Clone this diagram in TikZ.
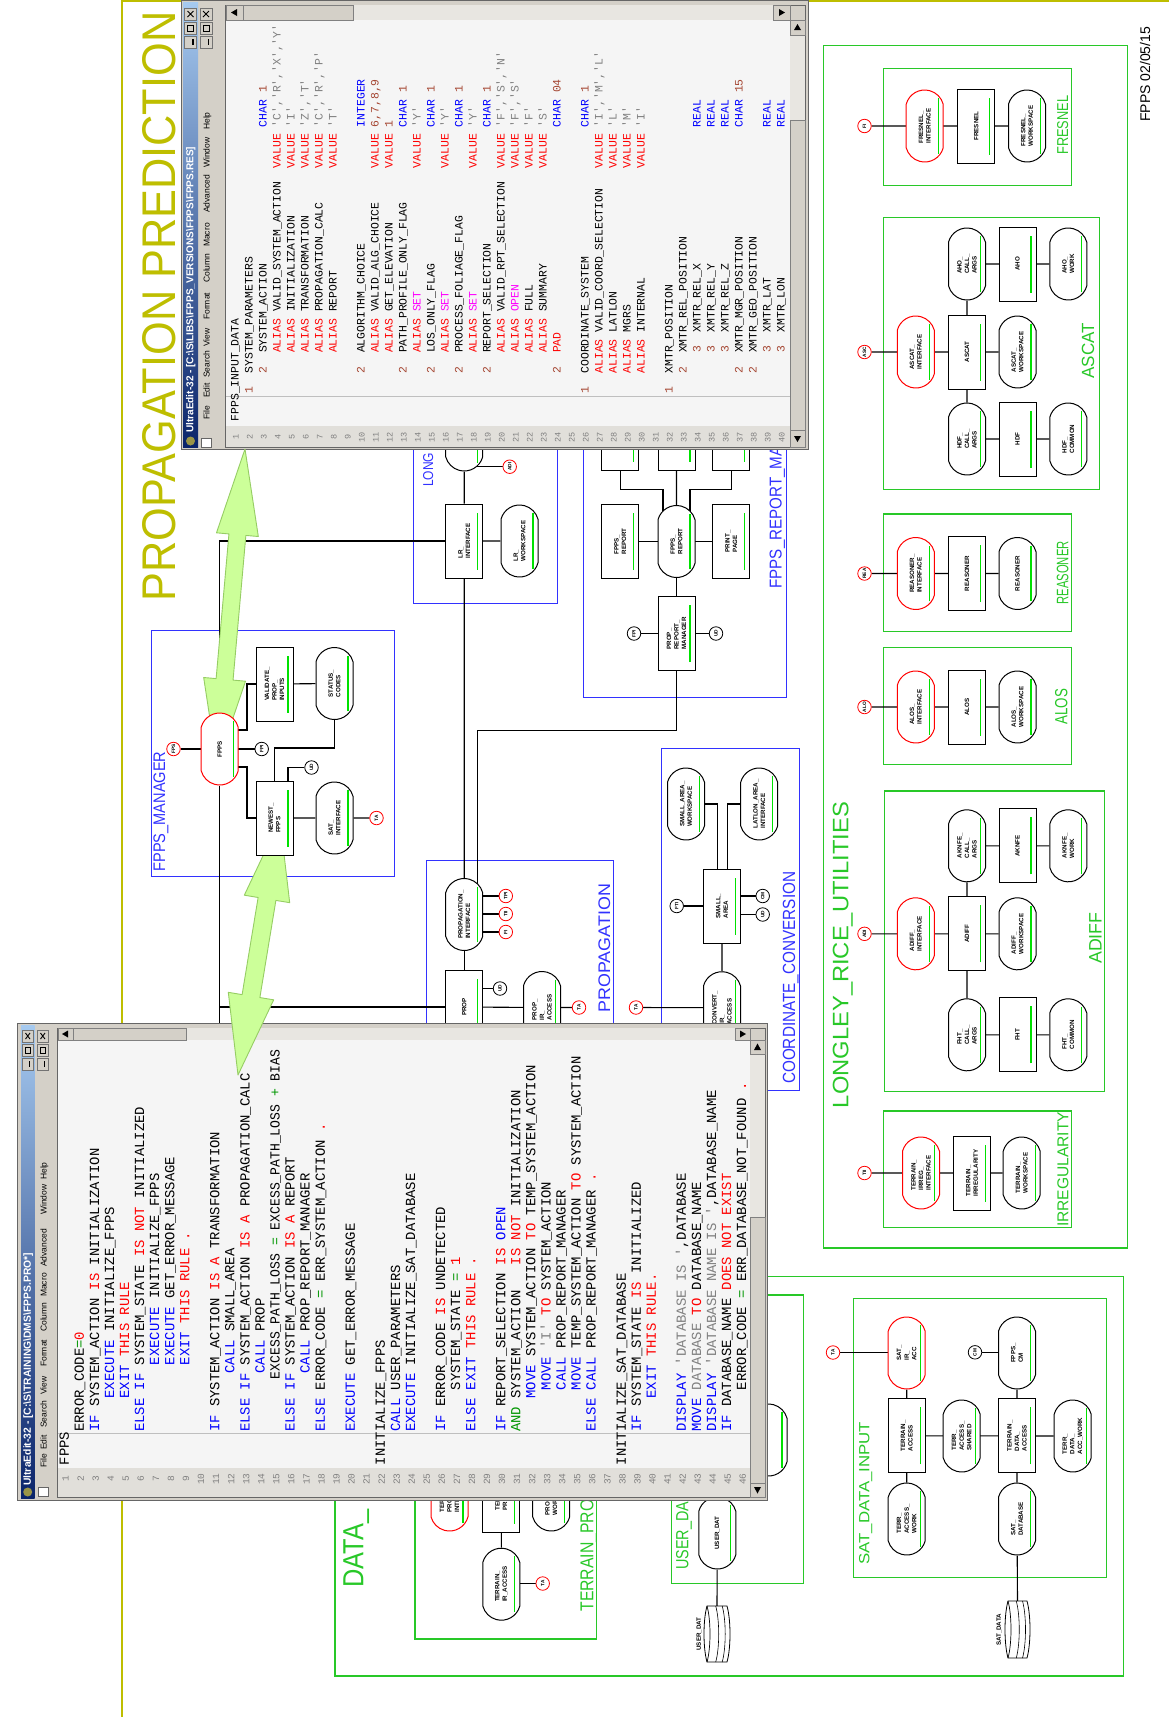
\documentclass[tikz,border=0pt]{standalone}
\usepackage{fontspec}
\usepackage{graphicx}
\setsansfont{Liberation Sans}
\setmonofont{Liberation Mono}
\usetikzlibrary{calc,shapes.misc}
\definecolor{olv}{RGB}{190,190,0}
\definecolor{bfr}{RGB}{50,50,255}
\definecolor{gfr}{RGB}{40,200,40}
\definecolor{glin}{RGB}{0,225,0}
\definecolor{winf}{RGB}{212,208,200}
\definecolor{codebg}{RGB}{245,245,245}
\definecolor{lnbg}{RGB}{225,223,218}
\definecolor{sbtr}{RGB}{232,230,225}
\definecolor{tbd}{RGB}{10,36,106}
\definecolor{tbl}{RGB}{166,202,240}
\definecolor{arrf}{RGB}{204,255,153}
\definecolor{arrd}{RGB}{150,205,100}
\definecolor{cK}{RGB}{0,0,0}
\definecolor{cR}{RGB}{255,0,0}
\definecolor{cB}{RGB}{0,0,255}
\definecolor{cG}{RGB}{128,128,128}
\definecolor{cN}{RGB}{165,70,50}
\definecolor{cM}{RGB}{255,0,255}
\definecolor{cE}{RGB}{0,150,0}
\pgfdeclarelayer{bg}\pgfdeclarelayer{win}\pgfdeclarelayer{arr}\pgfdeclarelayer{top}
\pgfsetlayers{bg,main,win,arr,top}
\newlength\cw
\newcommand\modfont{\sffamily\bfseries\fontsize{6.2}{7.6}\selectfont}
\newcommand\cirfont{\sffamily\bfseries\fontsize{4.8}{5}\selectfont}
\newcommand\CC[3]{\makebox[0pt][l]{\setlength\cw{0.6em}\hspace*{#1\cw}\textcolor{#2}{#3}}}
\newcommand\Tk[2]{\CC{#1}{cK}{#2}}
\newcommand\Tr[2]{\CC{#1}{cR}{#2}}
\newcommand\Tb[2]{\CC{#1}{cB}{#2}}
\newcommand\Tg[2]{\CC{#1}{cG}{#2}}
\newcommand\Tn[2]{\CC{#1}{cN}{#2}}
\newcommand\Tm[2]{\CC{#1}{cM}{#2}}
\newcommand\Te[2]{\CC{#1}{cE}{#2}}
\newcommand\qq{\textquotesingle}
\newcommand\LA[2]{\node[codeA] (la#1) at ({238.7+(#1-1)*14},422) {#2};}
\newcommand\NA[1]{\node[lnA] (na#1) at ({238.5+(#1-1)*14},437) {#1};}
\newcommand\LB[2]{\node[codeB] (lb#1) at ({68.9+(#1-1)*15.05},1466) {#2};}
\newcommand\NB[1]{\node[lnB] (nb#1) at ({68.7+(#1-1)*15.05},1479) {#1};}
\newcommand\gl[1]{\draw[glin,line width=1.2pt] ($(#1.west)!0.12!(#1.east)+(13.5,0)$) -- ($(#1.west)!0.88!(#1.east)+(13.5,0)$);}
\newcommand\lab[6]{\node[rotate=90,anchor=base west,inner sep=0,text=#1] (#2) at (#3) {\resizebox{#4pt}{#5pt}{\sffamily #6}};}
\newcommand\fatarrow[5]{%
  \coordinate (faA) at (#1); \coordinate (faB) at (#2);
  \coordinate (faHa) at ($(faA)!#3!(faB)$);
  \coordinate (faHb) at ($(faB)!#3!(faA)$);
  \filldraw[fill=arrf,draw=arrd,line width=.9pt,line join=round]
   (faA) -- ($(faHa)!#4!90:(faB)$) -- ($(faHa)!#5!90:(faB)$) -- ($(faHb)!#5!-90:(faA)$) -- ($(faHb)!#4!-90:(faA)$) -- (faB) -- ($(faHb)!#4!90:(faA)$) -- ($(faHb)!#5!90:(faA)$) -- ($(faHa)!#5!-90:(faB)$) -- ($(faHa)!#4!-90:(faB)$) -- cycle;}
\newcommand\disk[4]{%
 \begin{scope}[shift={(#1,#2)}]
  \filldraw[fill=white,line width=.8pt] (3,0) -- ({#3-3},0) .. controls ({#3+1},{#4*0.25}) and ({#3+1},{#4*0.75}) .. ({#3-3},#4) -- (3,#4) .. controls (-1,{#4*0.75}) and (-1,{#4*0.25}) .. (3,0) -- cycle;
  \draw[line width=.7pt] (3,0) .. controls (7,{#4*0.25}) and (7,{#4*0.75}) .. (3,#4);
  \draw[line width=.6pt] ({#3*0.45},0) .. controls ({#3*0.45+4},{#4*0.25}) and ({#3*0.45+4},{#4*0.75}) .. ({#3*0.45},#4);
  \draw[line width=.6pt] ({#3*0.7},0) .. controls ({#3*0.7+4},{#4*0.25}) and ({#3*0.7+4},{#4*0.75}) .. ({#3*0.7},#4);
 \end{scope}}
\newcommand\winbtns[3]{%
 \foreach \k in {0,1,2} {\filldraw[fill=winf,draw=black!55,line width=.5pt] (#1,{#3+\k*14}) rectangle (#2,{#3+\k*14+12});}
 \draw[line width=.9pt] ({#1+3},{#3+3}) -- ({#2-3},{#3+9}) ({#1+3},{#3+9}) -- ({#2-3},{#3+3});
 \draw[line width=.7pt] ({#1+3},{#3+17}) rectangle ({#2-3},{#3+23});
 \draw[line width=1.3pt] ({#2-3.5},{#3+31}) -- ({#2-3.5},{#3+37});}
\begin{document}
\begin{tikzpicture}[x=1pt,y=-1pt,
 mod/.style={draw=black,fill=white,line width=1pt,rotate=90,minimum width=74pt,minimum height=37pt,inner sep=1pt,font=\modfont,align=left},
 stad/.style={mod,rounded rectangle,rounded rectangle arc length=150},
 redst/.style={stad,draw=red},
 conn/.style={circle,draw=black,fill=white,line width=.8pt,minimum size=13.5pt,inner sep=0pt,rotate=90,font=\cirfont},
 rconn/.style={conn,draw=red},
 link/.style={line width=1.1pt,black},
 bbox/.style={draw=bfr,line width=1pt},
 gbox/.style={draw=gfr,line width=1.4pt},
 codeA/.style={rotate=90,anchor=base west,inner sep=0,font=\ttfamily\fontsize{11.4}{12}\selectfont},
 lnA/.style={rotate=90,anchor=base,inner sep=0,text=cG,font=\ttfamily\fontsize{8.5}{9}\selectfont},
 codeB/.style={rotate=90,anchor=base west,inner sep=0,font=\ttfamily\fontsize{13.9}{14}\selectfont},
 lnB/.style={rotate=90,anchor=base,inner sep=0,text=cG,font=\ttfamily\fontsize{9.5}{10}\selectfont},
 menu/.style={rotate=90,anchor=base west,inner sep=0,font=\sffamily\fontsize{8.5}{9}\selectfont}]
\useasboundingbox (0,0) rectangle (1169,1717);

% ================= NODES (main) =================
\node[conn,draw=red] (fps) at (173.5,749) {FPS};
\node[conn] (fpi1) at (261.7,749) {FPI};
\node[mod] (validate) at (274.5,684) {VALIDATE\_\\PROP\_\\INPUTS};
\node[stad] (status) at (334.5,683.5) {STATUS\_\\CODES};
\node[stad] (satif) at (334.5,818) {SAT\_\\INTERFACE};
\node[rconn] (ta1) at (376.5,818) {TA};
\node[conn] (ud1) at (311.5,767.5) {UD};
\node[stad] (lrhidden) at (464.2,435) {};
\node[rconn] (adi1) at (509.7,466.7) {ADI};
\node[mod] (lrif) at (464.2,541) {LR\_\\INTERFACE};
\node[stad] (lrws) at (519.5,541) {LR\_\\WORKSPACE};
\node[mod] (prm) at (676.5,633.5) {PROP\_\\REPORT\_\\MANAGER};
\node[conn] (fpi2) at (634,633.5) {FPI};
\node[conn] (ud2) at (716,633.5) {UD};
\node[stad] (fpr) at (676.5,541.5) {FPPS\_\\REPORT};
\node[mod] (fprb) at (620.3,541.5) {FPPS\_\\REPORT};
\node[mod] (pp) at (731.3,541.5) {PRINT\_\\PAGE};
\node[mod] (hb1) at (620.3,433) {};
\node[mod] (hb2) at (676.5,433) {};
\node[mod] (hb3) at (731.3,433) {};
\node[stad] (pif) at (464.2,914.5) {PROPAGATION\_\\INTERFACE};
\node[rconn] (cfi) at (505.8,932) {FI};
\node[rconn] (ctii) at (505.8,914) {TII};
\node[rconn] (ctpi) at (505.8,896) {TPI};
\node[mod] (prop) at (464.2,1007) {PROP};
\node[conn] (ud3) at (500,988.5) {UD};
\node[stad] (pira) at (542,1007.5) {PROP\_\\IR\_\\ACCESS};
\node[rconn] (ta2) at (579,1007.5) {TA};
\node[rconn] (ta3) at (636,1007.5) {TA};
\node[mod] (sa) at (722,906) {SMALL\_\\AREA};
\node[stad] (saws) at (686,804) {SMALL\_AREA\_\\WORKSPACE};
\node[stad] (llif) at (759.2,804) {LATLON\_AREA\_\\INTERFACE};
\node[conn] (fti) at (676.7,906) {FTI};
\node[conn] (cm1) at (762.7,896) {CM};
\node[conn] (ud4) at (762.7,914.5) {UD};
\node[stad] (cira) at (722,1007.7) {CONVERT\_\\IR\_\\ACCESS};
% right box
\node[rconn] (fi) at (864.5,126) {FI};
\node[redst] (frif) at (924.7,126) {FRESNEL\_\\INTERFACE};
\node[mod] (fres) at (976.3,126) {FRESNEL};
\node[stad] (frws) at (1027,126) {FRESNEL\_\\WORKSPACE};
\node[rconn] (asc) at (864.5,352) {ASC};
\node[redst] (ascif) at (915.8,352) {ASCAT\_\\INTERFACE};
\node[mod] (ascat) at (967,352) {ASCAT};
\node[stad] (ascws) at (1017.5,352) {ASCAT\_\\WORKSPACE};
\node[stad] (ahoca) at (967,264) {AHO\_\\CALL\_\\ARGS};
\node[mod] (aho) at (1017.5,264) {AHO};
\node[stad] (ahow) at (1068.3,264) {AHO\_\\WORK};
\node[stad] (hdfca) at (967,439) {HDF\_\\CALL\_\\ARGS};
\node[mod] (hdf) at (1017.5,439) {HDF};
\node[stad] (hdfc) at (1068.3,439) {HDF\_\\COMMON};
\node[rconn] (rea) at (864.5,573.5) {REA};
\node[redst] (reasif) at (915.8,573.5) {REASONER\_\\INTERFACE};
\node[mod] (reas) at (967,573.5) {REASONER};
\node[stad] (reas2) at (1017.5,573.5) {REASONER};
\node[rconn] (alo) at (864.5,707) {ALO};
\node[redst] (alosif) at (915.8,707) {ALOS\_\\INTERFACE};
\node[mod] (alos) at (967,707) {ALOS};
\node[stad] (alosws) at (1017.5,707) {ALOS\_\\WORKSPACE};
\node[rconn] (adi2) at (864.5,933.8) {ADI};
\node[redst] (adiffif) at (915.8,933.8) {ADIFF\_\\INTERFACE};
\node[mod] (adiff) at (967,933.8) {ADIFF};
\node[stad] (adiffws) at (1017.5,933.8) {ADIFF\_\\WORKSPACE};
\node[stad] (aknca) at (967,845.8) {AKNFE\_\\CALL\_\\ARGS};
\node[mod] (aknfe) at (1017.5,845.8) {AKNFE};
\node[stad] (aknw) at (1068.3,845.8) {AKNFE\_\\WORK};
\node[stad] (fhtca) at (967,1034.8) {FHT\_\\CALL\_\\ARGS};
\node[mod] (fht) at (1017.5,1034.8) {FHT};
\node[stad] (fhtc) at (1068.3,1034.8) {FHT\_\\COMMON};
\node[rconn] (tii2) at (864.5,1173) {TII};
\node[redst] (tirrif) at (921,1173) {TERRAIN\_\\IRREG\_\\INTERFACE};
\node[mod] (tirr) at (972,1173) {TERRAIN\_\\IRREGULARITY};
\node[stad] (tirrws) at (1021.7,1173) {TERRAIN\_\\WORKSPACE};
% sat data input
\node[rconn] (ta5) at (833,1352.5) {TA};
\node[redst] (satir) at (906.7,1353) {SAT\_\\IR\_\\ACC};
\node[conn] (cm2) at (975,1352.3) {CM};
\node[stad] (fppscm) at (1017,1353) {FPPS\_\\CM};
\node[mod] (tacc) at (906.7,1435.8) {TERRAIN\_\\ACCESS};
\node[stad] (tas) at (961.7,1436) {TERR\_\\ACCESS\_\\SHARED};
\node[mod] (tda) at (1017,1435.8) {TERRAIN\_\\DATA\_\\ACCESS};
\node[stad] (tdaw) at (1072.7,1436) {TERR\_\\DATA\_\\ACC\_WORK};
\node[stad] (taw) at (906.7,1519) {TERR\_\\ACCESS\_\\WORK};
\node[stad] (satdb) at (1017,1519) {SAT\_\\DATABASE};
% data area
\node[redst] (tpih) at (449.5,1495) {TERRAIN\_\\PROFILE\_\\INTERFACE};
\node[mod] (tprh) at (501.3,1495) {TERRAIN\_\\PROFILE};
\node[stad] (tpwh) at (551.2,1495) {PROFILE\_\\WORKSPACE};
\node[stad] (tira) at (501.3,1584.2) {TERRAIN\_\\IR\_ACCESS};
\node[rconn] (ta4) at (542.7,1583.5) {TA};
\node[stad] (userdat) at (717.3,1533) {USER\_DAT};
\node[stad] (udh) at (768.5,1440) {};
\disk{1005}{1601}{25}{57}
\disk{704}{1606}{26}{56}
\coordinate (satcyl) at (1017.5,1601);
\coordinate (usercyl) at (717,1606);
\node[rotate=90,font=\modfont,inner sep=0] (satdatalab) at (999,1630) {SAT\_DATA};
\node[rotate=90,font=\modfont,inner sep=0] (userdatlab) at (699,1634) {USER\_DAT};
\coordinate (fppsdown) at (219.7,1060);
\foreach \n in {validate,status,satif,lrhidden,lrif,lrws,prm,fpr,fprb,pp,hb1,hb2,hb3,pif,prop,pira,sa,saws,llif,cira,frif,fres,frws,ascif,ascat,ascws,ahoca,aho,ahow,hdfca,hdf,hdfc,reasif,reas,reas2,alosif,alos,alosws,adiffif,adiff,adiffws,aknca,aknfe,aknw,fhtca,fht,fhtc,tirrif,tirr,tirrws,satir,fppscm,tacc,tas,tda,tdaw,taw,satdb,tpih,tprh,tpwh,tira,userdat,udh} {\gl{\n}}

\begin{pgfonlayer}{top}
\node[redst] (fpps) at (219.7,749) {FPPS};
\node[mod] (newest) at (274.5,818) {NEWEST\_\\FPPS};
\gl{fpps}\gl{newest}
\end{pgfonlayer}

% ================= BACKGROUND: frames, labels, connectors =================
\begin{pgfonlayer}{bg}
\fill[white] (0,0) rectangle (1169,1717);
\draw[olv,line width=2pt] (122,0) -- (122,1717);
\draw[olv,line width=2pt] (122,1) -- (1169,1);
\lab{olv}{title}{175,602}{590}{33}{PROPAGATION PREDICTION}
\node[rotate=90,anchor=base west,inner sep=0,font=\sffamily\fontsize{14}{14}\selectfont] (date) at (1150,122) {FPPS 02/05/15};
% blue frames
\draw[bbox] (151,630) rectangle (394,876);
\draw[bbox] (413,380) rectangle (557.3,603.6);
\draw[bbox] (583.3,380) rectangle (786.7,697);
\draw[bbox] (426,860) rectangle (613.3,1060);
\draw[bbox] (661,748.6) rectangle (799.3,1090);
\lab{bfr}{lfm}{165,871.7}{120}{11.7}{FPPS\_MANAGER}
\lab{bfr}{llong}{433,487}{34}{10}{LONG}
\lab{bfr}{lprop}{610,1012.6}{128.6}{11.7}{PROPAGATION}
\lab{bfr}{lcc}{795,1084}{212}{12.3}{COORDINATE\_CONVERSION}
\lab{bfr}{lfrm}{781.7,588.7}{196}{12}{FPPS\_REPORT\_MANAGER}
% green frames
\draw[gbox] (823.3,45.7) rectangle (1127.3,1248);
\draw[gbox] (883.3,68.7) rectangle (1071.7,185.4);
\draw[gbox] (883.3,217.2) rectangle (1099.3,489.7);
\draw[gbox] (883.3,513.8) rectangle (1071.7,631.3);
\draw[gbox] (883.3,647.7) rectangle (1071.7,764.3);
\draw[gbox] (884.3,790.8) rectangle (1104.3,1091.3);
\draw[gbox] (883.3,1111) rectangle (1071.7,1227.7);
\draw[gbox] (335,1276.7) rectangle (1123.3,1676);
\draw[gbox] (853.3,1298.3) rectangle (1106.7,1577.7);
\draw[gbox] (671.7,1295) rectangle (803.3,1583.3);
\draw[gbox] (415,1400) rectangle (596.7,1639);
\lab{gfr}{llru}{848.3,1108.3}{306}{15.6}{LONGLEY\_RICE\_UTILITIES}
\lab{gfr}{lfres}{1068,154.8}{59}{11}{FRESNEL}
\lab{gfr}{lascat}{1094,378.7}{55.5}{12.3}{ASCAT}
\lab{gfr}{lreas}{1068.3,604.5}{63}{11.6}{REASONER}
\lab{gfr}{lalos}{1067.3,724.8}{35.6}{12.3}{ALOS}
\lab{gfr}{ladiff}{1101.7,964}{51.4}{12.4}{ADIFF}
\lab{gfr}{lirr}{1068.3,1227}{115}{11}{IRREGULARITY}
\lab{gfr}{ldata}{363.3,1588}{78}{20}{DATA\_}
\lab{gfr}{lsdi}{869.3,1565}{143}{10.3}{SAT\_DATA\_INPUT}
\lab{gfr}{ltp}{593.3,1611.7}{112}{13}{TERRAIN\_PRO}
\lab{gfr}{lud}{688.3,1570}{68}{12.3}{USER\_DA}
% connectors
\draw[link] (fps) -- (fpi1);
\draw[link] (validate) -- ++(-27.5,0) |- ($(fpps)+(0,-19)$);
\draw[link] (newest) -- ++(-27.5,0) |- ($(fpps)+(0,18)$);
\draw[link] (validate) -- (status);
\draw[link] (newest) -- (satif) -- (ta1);
\draw[link] (newest) -- ++(0,-70) -| (status);
\draw[link] ($(newest)+(13.5,0)$) |- (ud1);
\draw[link] (fpps) |- (lrif);
\draw[link] (fpps) |- (prop);
\draw[link] (fpps) -- (fppsdown);
\draw[link] (lrhidden) -- (lrif) -- (pif);
\draw[link] (lrif) -- (lrws);
\draw[link] (adi1) -- (adi1 -| lrhidden);
\draw[link] (pif) -- (prop);
\draw[link] (cfi) -- (cfi -| pif);
\draw[link] (ctii) -- (ctii -| pif);
\draw[link] (ctpi) -- (ctpi -| pif);
\draw[link] (ud3) -- (ud3 -| prop);
\draw[link] (prop) -- (pira) -- (ta2);
\draw[link] (prm) |- ($(pif)+(13.5,-184)$) -- ($(pif)+(13.5,0)$);
\draw[link] (fpi2) -- (ud2);
\draw[link] (prm) -- (fpr);
\draw[link] (fprb) -- (pp);
\draw[link] (hb2) -- (fpr);
\draw[link] (hb1) |- ($(fpr)+(-13.5,-52)$) -- ($(fpr)+(-13.5,0)$);
\draw[link] (hb3) |- ($(fpr)+(13.5,-52)$) -- ($(fpr)+(13.5,0)$);
\draw[link] (saws) -| ($(sa)+(-4.3,0)$);
\draw[link] (llif) -| ($(sa)+(5.7,0)$);
\draw[link] (fti) -- (fti -| sa);
\draw[link] (cm1) -- (cm1 -| sa);
\draw[link] (ud4) -- (ud4 -| sa);
\draw[link] (sa) -- (cira);
\draw[link] (ta3) -- (cira);
\draw[link] (fi) -- (frws);
\draw[link] (asc) -- (ascws);
\draw[link] (ahoca) -- (hdfca);
\draw[link] (ahoca) -- (ahow);
\draw[link] (hdfca) -- (hdfc);
\draw[link] (rea) -- (reas2);
\draw[link] (alo) -- (alosws);
\draw[link] (adi2) -- (adiffws);
\draw[link] (aknca) -- (fhtca);
\draw[link] (aknca) -- (aknw);
\draw[link] (fhtca) -- (fhtc);
\draw[link] (tii2) -- (tirrws);
\draw[link] (ta5) -- (ta5 -| satir);
\draw[link] (cm2) -- (cm2 -| fppscm);
\draw[link] (satir) -- (taw);
\draw[link] (fppscm) -- (satdb);
\draw[link] (satdb) -- (satcyl);
\draw[link] (tacc) -- (tdaw);
\draw[link] (tprh) -- (tira);
\draw[link] (ta4) -- (ta4 -| tira);
\draw[link] (userdat) -- (usercyl);
\end{pgfonlayer}

% ================= WINDOWS =================
\begin{pgfonlayer}{win}
% ---- window A ----
\filldraw[fill=winf,draw=black!60,line width=.6pt] (181,0) rectangle (808,449);
\shade[top color=tbl,bottom color=tbd] (183,2) rectangle (198,447);
\fill[yellow!55!black] (190.5,441) circle (4.5);
\node[rotate=90,anchor=west,inner sep=0,text=white] (tA) at (190.8,433) {\resizebox{286pt}{!}{\sffamily\bfseries UltraEdit-32 - [C:\textbackslash S\textbackslash LIBS\textbackslash FPPS\_VERSIONS\textbackslash FPPS\textbackslash FPPS.RES]}};
\winbtns{184.5}{196.5}{8}
\winbtns{200}{212}{8}
\filldraw[fill=white,draw=black!60] (201,438) rectangle (211,447);
\node[menu] (mA1) at (209.5,420) {File};
\node[menu] (mA2) at (209.5,398) {Edit};
\node[menu] (mA3) at (209.5,378) {Search};
\node[menu] (mA4) at (209.5,347) {View};
\node[menu] (mA5) at (209.5,320) {Format};
\node[menu] (mA6) at (209.5,283) {Column};
\node[menu] (mA7) at (209.5,247) {Macro};
\node[menu] (mA8) at (209.5,213) {Advanced};
\node[menu] (mA9) at (209.5,168) {Window};
\node[menu] (mA10) at (209.5,130) {Help};
\fill[codebg] (226,20) rectangle (790,426);
\fill[lnbg] (226,426) rectangle (790,447);
\draw[black!25] (226,396) -- (790,396);
\draw[black!60] (225,5) rectangle (805,447);
\fill[sbtr] (226,5) rectangle (790,20);
\filldraw[fill=winf,draw=black!50] (226,5) rectangle (243,20);
\fill (231,12.5) -- (237,9) -- (237,16) -- cycle;
\filldraw[fill=winf,draw=black!50] (243,5) rectangle (353,20);
\filldraw[fill=winf,draw=black!50] (773,5) rectangle (790,20);
\fill (785,12.5) -- (779,9) -- (779,16) -- cycle;
\fill[sbtr] (790,20) rectangle (805,447);
\filldraw[fill=winf,draw=black!50] (790,20) rectangle (805,35);
\fill (797.5,24) -- (794,30) -- (801,30) -- cycle;
\filldraw[fill=winf,draw=black!50] (790,120) rectangle (805,430);
\filldraw[fill=winf,draw=black!50] (790,430) rectangle (805,447);
\fill (797.5,442) -- (794,436) -- (801,436) -- cycle;
\foreach \i in {1,...,40} {\NA{\i}}
\begin{scope}
\clip (226,20) rectangle (790,426);
\LA{1}{\Tk{0}{FPPS\_INPUT\_DATA}}
\LA{2}{\Tn{4}{1}\Tk{7}{SYSTEM\_PARAMETERS}}
\LA{3}{\Tn{7}{2}\Tk{10}{SYSTEM\_ACTION}\Tb{43}{CHAR}\Tn{48}{1}}
\LA{4}{\Tr{10}{ALIAS}\Tk{16}{VALID\_SYSTEM\_ACTION}\Tr{37}{VALUE}\Tg{43}{\qq C\qq,\qq R\qq,\qq X\qq,\qq Y\qq}}
\LA{5}{\Tr{10}{ALIAS}\Tk{16}{INITIALIZATION}\Tr{37}{VALUE}\Tg{43}{\qq I\qq}}
\LA{6}{\Tr{10}{ALIAS}\Tk{16}{TRANSFORMATION}\Tr{37}{VALUE}\Tg{43}{\qq Z\qq,\qq T\qq}}
\LA{7}{\Tr{10}{ALIAS}\Tk{16}{PROPAGATION\_CALC}\Tr{37}{VALUE}\Tg{43}{\qq C\qq,\qq R\qq,\qq P\qq}}
\LA{8}{\Tr{10}{ALIAS}\Tk{16}{REPORT}\Tr{37}{VALUE}\Tg{43}{\qq T\qq}}
\LA{10}{\Tn{7}{2}\Tk{10}{ALGORITHM\_CHOICE}\Tb{43}{INTEGER}}
\LA{11}{\Tr{10}{ALIAS}\Tk{16}{VALID\_ALG\_CHOICE}\Tr{37}{VALUE}\Tn{43}{6,7,8,9}}
\LA{12}{\Tr{10}{ALIAS}\Tk{16}{GET\_ELEVATION}\Tr{37}{VALUE}\Tn{43}{1}}
\LA{13}{\Tn{7}{2}\Tk{10}{PATH\_PROFILE\_ONLY\_FLAG}\Tb{43}{CHAR}\Tn{48}{1}}
\LA{14}{\Tr{10}{ALIAS}\Tm{16}{SET}\Tr{37}{VALUE}\Tg{43}{\qq Y\qq}}
\LA{15}{\Tn{7}{2}\Tk{10}{LOS\_ONLY\_FLAG}\Tb{43}{CHAR}\Tn{48}{1}}
\LA{16}{\Tr{10}{ALIAS}\Tm{16}{SET}\Tr{37}{VALUE}\Tg{43}{\qq Y\qq}}
\LA{17}{\Tn{7}{2}\Tk{10}{PROCESS\_FOLIAGE\_FLAG}\Tb{43}{CHAR}\Tn{48}{1}}
\LA{18}{\Tr{10}{ALIAS}\Tm{16}{SET}\Tr{37}{VALUE}\Tg{43}{\qq Y\qq}}
\LA{19}{\Tn{7}{2}\Tk{10}{REPORT\_SELECTION}\Tb{43}{CHAR}\Tn{48}{1}}
\LA{20}{\Tr{10}{ALIAS}\Tk{16}{VALID\_RPT\_SELECTION}\Tr{37}{VALUE}\Tg{43}{\qq F\qq,\qq S\qq,\qq N\qq}}
\LA{21}{\Tr{10}{ALIAS}\Tm{16}{OPEN}\Tr{37}{VALUE}\Tg{43}{\qq F\qq,\qq S\qq}}
\LA{22}{\Tr{10}{ALIAS}\Tk{16}{FULL}\Tr{37}{VALUE}\Tg{43}{\qq F\qq}}
\LA{23}{\Tr{10}{ALIAS}\Tk{16}{SUMMARY}\Tr{37}{VALUE}\Tg{43}{\qq S\qq}}
\LA{24}{\Tn{7}{2}\Tr{10}{PAD}\Tb{43}{CHAR}\Tn{48}{04}}
\LA{26}{\Tn{4}{1}\Tk{7}{COORDINATE\_SYSTEM}\Tb{43}{CHAR}\Tn{48}{1}}
\LA{27}{\Tr{7}{ALIAS}\Tk{13}{VALID\_COORD\_SELECTION}\Tr{37}{VALUE}\Tg{43}{\qq I\qq,\qq M\qq,\qq L\qq}}
\LA{28}{\Tr{7}{ALIAS}\Tk{13}{LATLON}\Tr{37}{VALUE}\Tg{43}{\qq L\qq}}
\LA{29}{\Tr{7}{ALIAS}\Tk{13}{MGRS}\Tr{37}{VALUE}\Tg{43}{\qq M\qq}}
\LA{30}{\Tr{7}{ALIAS}\Tk{13}{INTERNAL}\Tr{37}{VALUE}\Tg{43}{\qq I\qq}}
\LA{32}{\Tn{4}{1}\Tk{7}{XMTR\_POSITION}}
\LA{33}{\Tn{7}{2}\Tk{10}{XMTR\_REL\_POSITION}}
\LA{34}{\Tn{10}{3}\Tk{13}{XMTR\_REL\_X}\Tb{43}{REAL}}
\LA{35}{\Tn{10}{3}\Tk{13}{XMTR\_REL\_Y}\Tb{43}{REAL}}
\LA{36}{\Tn{10}{3}\Tk{13}{XMTR\_REL\_Z}\Tb{43}{REAL}}
\LA{37}{\Tn{7}{2}\Tk{10}{XMTR\_MGR\_POSITION}\Tb{43}{CHAR}\Tn{48}{15}}
\LA{38}{\Tn{7}{2}\Tk{10}{XMTR\_GEO\_POSITION}}
\LA{39}{\Tn{10}{3}\Tk{13}{XMTR\_LAT}\Tb{43}{REAL}}
\LA{40}{\Tn{10}{3}\Tk{13}{XMTR\_LON}\Tb{43}{REAL}}
\end{scope}
% ---- window B ----
\filldraw[fill=winf,draw=black!60,line width=.6pt] (17,1023) rectangle (767,1500);
\shade[top color=tbl,bottom color=tbd] (21,1025) rectangle (34.5,1498);
\fill[yellow!55!black] (27.7,1492) circle (4.5);
\node[rotate=90,anchor=west,inner sep=0,text=white] (tB) at (28.2,1486) {\resizebox{233pt}{!}{\sffamily\bfseries UltraEdit-32 - [C:\textbackslash S\textbackslash TRAINING\textbackslash DMS\textbackslash FPPS.PRO*]}};
\winbtns{22.5}{33}{1030}
\winbtns{37.5}{48}{1030}
\filldraw[fill=white,draw=black!60] (38,1487) rectangle (48,1496);
\node[menu] (mB1) at (46.5,1468) {File};
\node[menu] (mB2) at (46.5,1450) {Edit};
\node[menu] (mB3) at (46.5,1428) {Search};
\node[menu] (mB4) at (46.5,1395) {View};
\node[menu] (mB5) at (46.5,1367) {Format};
\node[menu] (mB6) at (46.5,1332) {Column};
\node[menu] (mB7) at (46.5,1297) {Macro};
\node[menu] (mB8) at (46.5,1267) {Advanced};
\node[menu] (mB9) at (46.5,1215) {Window};
\node[menu] (mB10) at (46.5,1180) {Help};
\fill[codebg] (58,1040) rectangle (750,1468);
\fill[lnbg] (58,1468) rectangle (750,1497);
\draw[black!25] (58,1433) -- (750,1433);
\draw[black!60] (57,1028) rectangle (765,1497);
\fill[sbtr] (58,1028) rectangle (750,1040);
\filldraw[fill=winf,draw=black!50] (58,1028) rectangle (73,1040);
\fill (62,1034) -- (68,1030.5) -- (68,1037.5) -- cycle;
\filldraw[fill=winf,draw=black!50] (73,1028) rectangle (186,1040);
\filldraw[fill=winf,draw=black!50] (735,1028) rectangle (750,1040);
\fill (746,1034) -- (740,1030.5) -- (740,1037.5) -- cycle;
\fill[sbtr] (750,1040) rectangle (765,1497);
\filldraw[fill=winf,draw=black!50] (750,1040) rectangle (765,1054);
\fill (757.5,1043.5) -- (754,1050) -- (761,1050) -- cycle;
\filldraw[fill=winf,draw=black!50] (750,1217) rectangle (765,1483);
\filldraw[fill=winf,draw=black!50] (750,1483) rectangle (765,1497);
\fill (757.5,1493.5) -- (754,1487) -- (761,1487) -- cycle;
\foreach \i in {1,...,46} {\NB{\i}}
\begin{scope}
\clip (58,1040) rectangle (750,1468);
\LB{1}{\Tk{0}{FPPS}}
\LB{2}{\Tk{4}{ERROR\_CODE}\Te{14}{=}\Tr{15}{0}}
\LB{3}{\Tb{4}{IF}\Tk{7}{SYSTEM\_ACTION}\Tr{21}{IS}\Tk{24}{INITIALIZATION}}
\LB{4}{\Tb{8}{EXECUTE}\Tk{16}{INITIALIZE\_FPPS}}
\LB{5}{\Tb{8}{EXIT}\Tr{13}{THIS RULE}}
\LB{6}{\Tb{4}{ELSE IF}\Tk{12}{SYSTEM\_STATE}\Tr{25}{IS NOT}\Tk{32}{INITIALIZED}}
\LB{7}{\Tb{12}{EXECUTE}\Tk{20}{INITIALIZE\_FPPS}}
\LB{8}{\Tb{12}{EXECUTE}\Tk{20}{GET\_ERROR\_MESSAGE}}
\LB{9}{\Tb{12}{EXIT}\Tr{17}{THIS RULE .}}
\LB{11}{\Tb{4}{IF}\Tk{7}{SYSTEM\_ACTION}\Tr{21}{IS A}\Tk{26}{TRANSFORMATION}}
\LB{12}{\Tb{11}{CALL}\Tk{16}{SMALL\_AREA}}
\LB{13}{\Tb{4}{ELSE IF}\Tk{12}{SYSTEM\_ACTION}\Tr{26}{IS A}\Tk{31}{PROPAGATION\_CALC}}
\LB{14}{\Tb{11}{CALL}\Tk{16}{PROP}}
\LB{15}{\scalebox{0.94}[1]{\Tk{11}{EXCESS\_PATH\_LOSS}\Te{28}{=}\Tk{30}{EXCESS\_PATH\_LOSS}\Te{47}{+}\Tk{49}{BIAS}}}
\LB{16}{\Tb{4}{ELSE IF}\Tk{12}{SYSTEM\_ACTION}\Tr{26}{IS A}\Tk{31}{REPORT}}
\LB{17}{\Tb{11}{CALL}\Tk{16}{PROP\_REPORT\_MANAGER}}
\LB{18}{\Tb{4}{ELSE}\Tk{9}{ERROR\_CODE}\Te{20}{=}\Tk{22}{ERR\_SYSTEM\_ACTION}\Tr{40}{.}}
\LB{20}{\Tb{4}{EXECUTE}\Tk{12}{GET\_ERROR\_MESSAGE}}
\LB{22}{\Tk{0}{INITIALIZE\_FPPS}}
\LB{23}{\Tb{4}{CALL}\Tk{9}{USER\_PARAMETERS}}
\LB{24}{\Tb{4}{EXECUTE}\Tk{12}{INITIALIZE\_SAT\_DATABASE}}
\LB{26}{\Tb{4}{IF}\Tk{7}{ERROR\_CODE}\Tr{18}{IS}\Tk{21}{UNDETECTED}}
\LB{27}{\Tk{9}{SYSTEM\_STATE}\Te{22}{=}\Tr{24}{1}}
\LB{28}{\Tb{4}{ELSE EXIT}\Tr{14}{THIS RULE .}}
\LB{30}{\Tb{4}{IF}\Tk{7}{REPORT\_SELECTION}\Tr{24}{IS}\Tb{27}{OPEN}}
\LB{31}{\Te{4}{AND}\Tk{8}{SYSTEM\_ACTION}\Tr{24}{IS NOT}\Tk{31}{INITIALIZATION}}
\LB{32}{\Tb{8}{MOVE}\Tk{13}{SYSTEM\_ACTION}\Tr{27}{TO}\Tk{30}{TEMP\_SYSTEM\_ACTION}}
\LB{33}{\Tb{9}{MOVE}\Tg{14}{\qq I\qq}\Tr{18}{TO}\Tk{21}{SYSTEM\_ACTION}}
\LB{34}{\Tb{9}{CALL}\Tk{14}{PROP\_REPORT\_MANAGER}}
\LB{35}{\Tb{9}{MOVE}\Tk{14}{TEMP\_SYSTEM\_ACTION}\Tr{33}{TO}\Tk{36}{SYSTEM\_ACTION}}
\LB{36}{\Tb{4}{ELSE CALL}\Tk{14}{PROP\_REPORT\_MANAGER}\Tr{34}{.}}
\LB{38}{\Tk{0}{INITIALIZE\_SAT\_DATABASE}}
\LB{39}{\Tb{4}{IF}\Tk{7}{SYSTEM\_STATE}\Tr{20}{IS}\Tk{23}{INITIALIZED}}
\LB{40}{\Tb{8}{EXIT}\Tr{13}{THIS RULE.}}
\LB{42}{\Tb{4}{DISPLAY}\Tg{12}{\qq DATABASE IS \qq}\Tk{26}{,DATABASE}}
\LB{43}{\Tb{4}{MOVE}\Tg{9}{DATABASE}\Tr{18}{TO}\Tk{21}{DATABASE\_NAME}}
\LB{44}{\Tb{4}{DISPLAY}\Tg{12}{\qq DATABASE NAME IS \qq}\Tk{31}{,DATABASE\_NAME}}
\LB{45}{\Tb{4}{IF}\Tk{7}{DATABASE\_NAME}\Tr{21}{DOES NOT EXIST}}
\LB{46}{\Tk{9}{ERROR\_CODE}\Te{20}{=}\Tk{22}{ERR\_DATABASE\_NOT\_FOUND}\Tr{45}{.}}
\end{scope}
\end{pgfonlayer}

% ================= ARROWS =================
\begin{pgfonlayer}{arr}
\fatarrow{245,449}{217,765}{86pt}{21pt}{8.5pt}
\fatarrow{280,820}{238,1075}{80pt}{23pt}{9pt}
\end{pgfonlayer}
\end{tikzpicture}
\end{document}
